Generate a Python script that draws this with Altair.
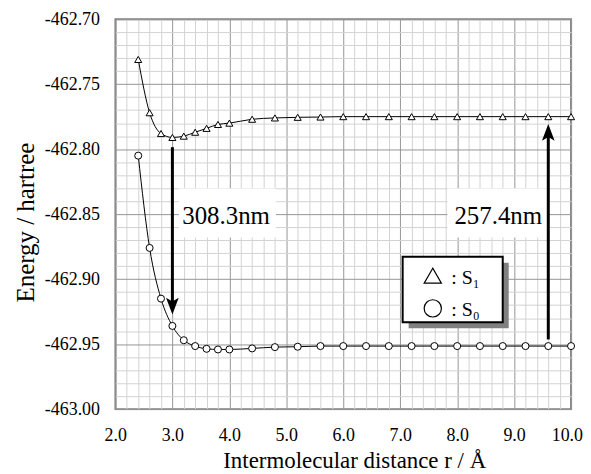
import altair as alt
import pandas as pd

# ---- data ----
r = [2.4, 2.6, 2.8, 3.0, 3.2, 3.4, 3.6, 3.8, 4.0, 4.4, 4.8, 5.2, 5.6,
     6.0, 6.4, 6.8, 7.2, 7.6, 8.0, 8.4, 8.8, 9.2, 9.6, 10.0]
e_s1 = [-462.731, -462.772, -462.788, -462.791, -462.790, -462.787, -462.784,
        -462.781, -462.780, -462.777, -462.776, -462.7755, -462.7753,
        -462.775, -462.775, -462.775, -462.775, -462.775, -462.775,
        -462.775, -462.775, -462.775, -462.775, -462.775]
e_s0 = [-462.805, -462.876, -462.915, -462.936, -462.947, -462.9515, -462.9536,
        -462.9541, -462.9541, -462.9533, -462.9523, -462.9520, -462.9515,
        -462.9515, -462.9515, -462.9515, -462.9515, -462.9515, -462.9515,
        -462.9515, -462.9515, -462.9515, -462.9515, -462.9515]
series_names = ["S\u2081", "S\u2080"]
series_shapes = ["triangle-up", "circle"]

# transitions (arrows) and their labels
arrow_r = [3.0, 9.6]
arrow_from = [-462.7985, -462.9464]
arrow_to = [-462.9273, -462.7806]
trans_labels = ["308.3nm", "257.4nm"]
label_r = [3.942, 8.721]
label_e = [-462.8577, -462.8579]
box_r1 = [3.113, 7.829]
box_r2 = [4.818, 9.604]
box_e1 = [-462.8303, -462.8303]
box_e2 = [-462.868, -462.868]

# hand-drawn legend (data units)
leg_r = [7.043, 8.800]
leg_e = [-462.8827, -462.9332]
shadow_r = [7.148, 8.905]
shadow_e = [-462.8873, -462.9378]
leg_sym_r = [7.572, 7.572]
leg_sym_e = [-462.8974, -462.9225]
leg_txt_r = [7.895, 7.895]
leg_txt_e = [-462.9036, -462.9286]
leg_labels = [": S\u2081", ": S\u2080"]

x_ticks = [round(2.0 + 0.2 * i, 1) for i in range(41)]
y_ticks = [round(-463.0 + 0.01 * i, 2) for i in range(31)]

FONT = "Liberation Serif"

df = pd.DataFrame({
    "r": r + r,
    "E": e_s1 + e_s0,
    "state": [series_names[0]] * len(r) + [series_names[1]] * len(r),
})
arrows = pd.DataFrame({"r": arrow_r, "e1": arrow_from, "e2": arrow_to})
labels = pd.DataFrame({"r": label_r, "E": label_e, "t": trans_labels,
                       "r1": box_r1, "r2": box_r2, "e1": box_e1, "e2": box_e2})
legbox = pd.DataFrame({"r1": [leg_r[0]], "r2": [leg_r[1]], "e1": [leg_e[0]], "e2": [leg_e[1]]})
shadow = pd.DataFrame({"r1": [shadow_r[0]], "r2": [shadow_r[1]], "e1": [shadow_e[0]], "e2": [shadow_e[1]]})
legitems = pd.DataFrame({"state": series_names, "sr": leg_sym_r, "se": leg_sym_e,
                         "tr": leg_txt_r, "te": leg_txt_e, "t": leg_labels})

xscale = alt.Scale(domain=[2, 10], nice=False, zero=False)
yscale = alt.Scale(domain=[-463.0, -462.70], nice=False, zero=False)
shape_scale = alt.Scale(domain=series_names, range=series_shapes)

xaxis = alt.Axis(
    values=x_ticks, grid=True, ticks=False, domain=False,
    gridColor={"condition": {"test": "abs(datum.value - round(datum.value)) < 1e-6", "value": "#959595"},
               "value": "#d3d3d3"},
    gridWidth=1,
    labelExpr="abs(datum.value - round(datum.value)) < 1e-6 ? format(datum.value, '.1f') : ''",
    labelOverlap=False, labelFlush=True, labelFlushOffset=11.5,
    labelFont=FONT, labelFontSize=18, labelColor="black", labelPadding=18,
    title="Intermolecular distance r / \u00c5", titleFont=FONT, titleFontSize=23, titleX=240,
    titleFontWeight="normal", titleColor="black", titlePadding=5,
)
yaxis = alt.Axis(
    values=y_ticks, grid=True, ticks=False, domain=False,
    gridColor={"condition": {"test": "abs(datum.value * 20 - round(datum.value * 20)) < 1e-6", "value": "#959595"},
               "value": "#d3d3d3"},
    gridWidth=1,
    labelExpr="abs(datum.value * 20 - round(datum.value * 20)) < 1e-6 ? '-' + format(abs(datum.value), '.2f') : ''",
    labelOverlap=False, labelFont=FONT, labelFontSize=18, labelColor="black", labelPadding=16,
    title="Energy / hartree", titleFont=FONT, titleFontSize=25, titleY=204,
    titleFontWeight="normal", titleColor="black", titlePadding=6,
)


def X(f):
    return alt.X(f, type="quantitative", scale=xscale, axis=xaxis)


def Y(f):
    return alt.Y(f, type="quantitative", scale=yscale, axis=yaxis)


label_boxes = alt.Chart(labels).mark_rect(fill="white", stroke=None).encode(
    x=X("r1"), x2="r2", y=Y("e1"), y2="e2")

shadow_rect = alt.Chart(shadow).mark_rect(fill="#808080").encode(
    x=X("r1"), x2="r2", y=Y("e1"), y2="e2")
legend_rect = alt.Chart(legbox).mark_rect(fill="white", stroke="black", strokeWidth=2).encode(
    x=X("r1"), x2="r2", y=Y("e1"), y2="e2")
legend_syms = alt.Chart(legitems).mark_point(filled=True, fill="white", stroke="black",
                                             strokeWidth=1.2, opacity=1, size=300).encode(
    x=X("sr"), y=Y("se"), shape=alt.Shape("state:N", scale=shape_scale, legend=None))
legend_txt = alt.Chart(legitems).mark_text(font=FONT, fontSize=20, color="black", align="left",
                                           baseline="alphabetic").encode(
    x=X("tr"), y=Y("te"), text="t:N")

lines = alt.Chart(df).mark_line(color="black", strokeWidth=1, interpolate="monotone").encode(
    x=X("r"), y=Y("E"), detail="state:N")

points = alt.Chart(df).mark_point(filled=True, fill="white", stroke="black",
                                  strokeWidth=1, opacity=1, size=50).encode(
    x=X("r"), y=Y("E"),
    shape=alt.Shape("state:N", scale=shape_scale, legend=None),
)

arrow_down = arrows.iloc[[0]]
arrow_up = arrows.iloc[[1]]
rule_down = alt.Chart(arrow_down).mark_rule(color="black", strokeWidth=3, y2Offset=-10).encode(
    x=X("r"), y=Y("e1"), y2="e2")
rule_up = alt.Chart(arrow_up).mark_rule(color="black", strokeWidth=3, y2Offset=10).encode(
    x=X("r"), y=Y("e1"), y2="e2")
head_down = alt.Chart(arrow_down).mark_point(
    shape="M0,1L-0.75,-1L0,-0.55L0.75,-1Z", filled=True, fill="black", stroke=None,
    opacity=1, size=289, yOffset=-8.5).encode(x=X("r"), y=Y("e2"))
head_up = alt.Chart(arrow_up).mark_point(
    shape="M0,-1L-0.75,1L0,0.55L0.75,1Z", filled=True, fill="black", stroke=None,
    opacity=1, size=289, yOffset=8.5).encode(x=X("r"), y=Y("e2"))

texts = alt.Chart(labels).mark_text(font=FONT, fontSize=25, color="black", align="center",
                                    baseline="alphabetic").encode(
    x=X("r"), y=Y("E"), text="t:N")

chart = alt.layer(
    label_boxes, shadow_rect, legend_rect, lines, points,
    rule_down, rule_up, head_down, head_up, texts, legend_syms, legend_txt,
).properties(
    width=458, height=392,
    padding={"left": 5, "top": 1, "right": 0, "bottom": 0},
).configure_view(stroke="#808080", strokeWidth=2)

chart.save("out.html", embed_options={"renderer": "svg", "actions": False})
